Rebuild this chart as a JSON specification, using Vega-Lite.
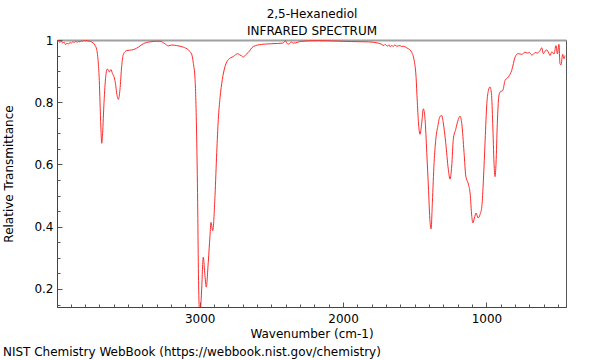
{
  "$schema": "https://vega.github.io/schema/vega-lite/v6.json",
  "autosize": {"type": "none"},
  "padding": {"left": 57, "top": 40, "right": 34, "bottom": 53},
  "width": 509,
  "height": 267,
  "background": "white",
  "title": {"text": "NIST Chemistry WebBook (https://webbook.nist.gov/chemistry)", "orient": "bottom", "anchor": "start", "frame": "bounds", "fontSize": 12, "fontWeight": "normal", "font": "DejaVu Sans", "color": "#000000", "offset": 8, "dx": 0},
  "data": {"values": [
    {"w":3993,"t":0.995},{"w":3985,"t":0.998},{"w":3975,"t":0.992},{"w":3965,"t":0.997},{"w":3955,"t":0.99},{"w":3945,"t":0.993},{"w":3935,"t":0.985},{"w":3925,"t":0.99},{"w":3915,"t":0.987},{"w":3905,"t":0.992},{"w":3895,"t":0.99},{"w":3885,"t":0.994},{"w":3875,"t":0.992},{"w":3865,"t":0.996},{"w":3855,"t":0.993},{"w":3845,"t":0.995},{"w":3835,"t":0.994},{"w":3825,"t":0.997},{"w":3815,"t":0.996},{"w":3805,"t":0.999},{"w":3795,"t":0.997},{"w":3785,"t":0.998},{"w":3777,"t":0.997},{"w":3760,"t":0.995},{"w":3742,"t":0.99},{"w":3730,"t":0.983},{"w":3718,"t":0.969},{"w":3707,"t":0.926},{"w":3700,"t":0.87},{"w":3695,"t":0.8},{"w":3689,"t":0.72},{"w":3683,"t":0.668},{"w":3677,"t":0.7},{"w":3667,"t":0.8},{"w":3655,"t":0.883},{"w":3644,"t":0.907},{"w":3636,"t":0.902},{"w":3630,"t":0.897},{"w":3624,"t":0.902},{"w":3618,"t":0.905},{"w":3609,"t":0.893},{"w":3595,"t":0.878},{"w":3587,"t":0.86},{"w":3579,"t":0.83},{"w":3567,"t":0.809},{"w":3556,"t":0.84},{"w":3544,"t":0.915},{"w":3533,"t":0.953},{"w":3521,"t":0.962},{"w":3509,"t":0.966},{"w":3474,"t":0.968},{"w":3451,"t":0.971},{"w":3428,"t":0.977},{"w":3393,"t":0.988},{"w":3346,"t":0.994},{"w":3300,"t":0.996},{"w":3277,"t":0.996},{"w":3242,"t":0.988},{"w":3219,"t":0.981},{"w":3195,"t":0.984},{"w":3160,"t":0.982},{"w":3114,"t":0.977},{"w":3079,"t":0.968},{"w":3055,"t":0.953},{"w":3044,"t":0.925},{"w":3032,"t":0.873},{"w":3021,"t":0.691},{"w":3014,"t":0.478},{"w":3009,"t":0.266},{"w":3004,"t":0.15},{"w":2998,"t":0.12},{"w":2993,"t":0.14},{"w":2986,"t":0.2},{"w":2975,"t":0.302},{"w":2963,"t":0.243},{"w":2954,"t":0.206},{"w":2940,"t":0.286},{"w":2928,"t":0.371},{"w":2921,"t":0.414},{"w":2909,"t":0.387},{"w":2893,"t":0.5},{"w":2881,"t":0.638},{"w":2870,"t":0.745},{"w":2858,"t":0.814},{"w":2842,"t":0.873},{"w":2823,"t":0.915},{"w":2800,"t":0.937},{"w":2765,"t":0.947},{"w":2735,"t":0.956},{"w":2720,"t":0.952},{"w":2707,"t":0.949},{"w":2696,"t":0.945},{"w":2680,"t":0.952},{"w":2661,"t":0.96},{"w":2626,"t":0.979},{"w":2567,"t":0.986},{"w":2497,"t":0.988},{"w":2420,"t":0.99},{"w":2400,"t":0.998},{"w":2393,"t":0.99},{"w":2380,"t":0.987},{"w":2360,"t":0.993},{"w":2347,"t":0.99},{"w":2288,"t":0.996},{"w":2172,"t":0.998},{"w":2079,"t":0.997},{"w":1939,"t":0.995},{"w":1824,"t":0.994},{"w":1754,"t":0.99},{"w":1730,"t":0.986},{"w":1715,"t":0.982},{"w":1707,"t":0.986},{"w":1690,"t":0.98},{"w":1680,"t":0.985},{"w":1670,"t":0.978},{"w":1660,"t":0.983},{"w":1650,"t":0.979},{"w":1640,"t":0.984},{"w":1625,"t":0.98},{"w":1603,"t":0.982},{"w":1591,"t":0.979},{"w":1580,"t":0.98},{"w":1556,"t":0.975},{"w":1545,"t":0.972},{"w":1521,"t":0.96},{"w":1505,"t":0.937},{"w":1491,"t":0.883},{"w":1482,"t":0.8},{"w":1472,"t":0.723},{"w":1463,"t":0.697},{"w":1451,"t":0.734},{"w":1440,"t":0.779},{"w":1428,"t":0.745},{"w":1416,"t":0.638},{"w":1405,"t":0.531},{"w":1393,"t":0.414},{"w":1386,"t":0.393},{"w":1377,"t":0.478},{"w":1365,"t":0.606},{"w":1353,"t":0.681},{"w":1339,"t":0.723},{"w":1323,"t":0.755},{"w":1311,"t":0.757},{"w":1301,"t":0.734},{"w":1284,"t":0.67},{"w":1266,"t":0.585},{"w":1254,"t":0.553},{"w":1242,"t":0.595},{"w":1231,"t":0.681},{"w":1214,"t":0.713},{"w":1196,"t":0.745},{"w":1184,"t":0.755},{"w":1172,"t":0.732},{"w":1156,"t":0.638},{"w":1144,"t":0.563},{"w":1126,"t":0.537},{"w":1114,"t":0.508},{"w":1102,"t":0.433},{"w":1095,"t":0.412},{"w":1084,"t":0.428},{"w":1072,"t":0.444},{"w":1058,"t":0.428},{"w":1044,"t":0.44},{"w":1032,"t":0.465},{"w":1021,"t":0.55},{"w":1009,"t":0.678},{"w":997,"t":0.796},{"w":986,"t":0.838},{"w":975,"t":0.849},{"w":965,"t":0.828},{"w":956,"t":0.732},{"w":947,"t":0.604},{"w":940,"t":0.561},{"w":933,"t":0.604},{"w":924,"t":0.732},{"w":914,"t":0.817},{"w":905,"t":0.833},{"w":886,"t":0.838},{"w":870,"t":0.87},{"w":847,"t":0.881},{"w":824,"t":0.902},{"w":800,"t":0.945},{"w":789,"t":0.954},{"w":777,"t":0.956},{"w":754,"t":0.954},{"w":731,"t":0.961},{"w":715,"t":0.958},{"w":700,"t":0.96},{"w":685,"t":0.952},{"w":673,"t":0.954},{"w":660,"t":0.96},{"w":647,"t":0.958},{"w":626,"t":0.966},{"w":614,"t":0.975},{"w":603,"t":0.956},{"w":590,"t":0.965},{"w":579,"t":0.968},{"w":565,"t":0.958},{"w":556,"t":0.95},{"w":544,"t":0.962},{"w":528,"t":0.955},{"w":515,"t":0.982},{"w":505,"t":0.955},{"w":494,"t":0.986},{"w":487,"t":0.924},{"w":480,"t":0.92},{"w":468,"t":0.954},{"w":459,"t":0.94},{"w":452,"t":0.95}
  ]},
  "layer": [
    {
      "mark": {"type": "line", "color": "#ff2a2a", "strokeWidth": 1, "clip": true, "interpolate": "monotone"},
      "encoding": {
        "x": {"field": "w", "type": "quantitative",
          "scale": {"domain": [445, 3995], "reverse": true, "nice": false, "zero": false},
          "axis": {"orient": "bottom", "title": "Wavenumber (cm-1)",
            "values": [1000, 2000, 3000], "format": "d",
            "tickSize": -5, "labelPadding": 11, "titlePadding": 4, "grid": false}},
        "y": {"field": "t", "type": "quantitative",
          "scale": {"domain": [0.142, 1.0], "nice": false, "zero": false},
          "axis": {"orient": "left", "title": "Relative Transmittance",
            "values": [0.2, 0.4, 0.6, 0.8, 1.0], "format": "~g",
            "tickSize": -5, "labelPadding": 9, "titlePadding": 18, "grid": false}}
      }
    },
    {
      "mark": {"type": "line", "opacity": 0},
      "encoding": {
        "x": {"field": "w", "type": "quantitative",
          "axis": {"orient": "top", "title": ["2,5-Hexanediol", "INFRARED SPECTRUM"], "ticks": false, "labels": false,
            "domainColor": "#a0a0a0", "domainWidth": 2, "titlePadding": 3, "titleLineHeight": 17, "grid": false}},
        "y": {"field": "t", "type": "quantitative",
          "axis": {"orient": "left", "title": null, "labels": false, "domain": false, "tickSize": -3, "grid": false,
            "values": [0.15, 0.25, 0.3, 0.35, 0.45, 0.5, 0.55, 0.65, 0.7, 0.75, 0.85, 0.9, 0.95]}}
      }
    },
    {
      "mark": {"type": "line", "opacity": 0},
      "encoding": {
        "x": {"field": "w", "type": "quantitative",
          "axis": {"orient": "bottom", "title": null, "labels": false, "domain": false, "tickSize": -3, "grid": false,
            "values": [500,600,700,800,900,1100,1200,1300,1400,1500,1600,1700,1800,1900,2100,2200,2300,2400,2500,2600,2700,2800,2900,3100,3200,3300,3400,3500,3600,3700,3800,3900]}},
        "y": {"field": "t", "type": "quantitative", "axis": null}
      }
    }
  ],
  "resolve": {"axis": {"x": "independent", "y": "independent"}},
  "config": {
    "font": "DejaVu Sans",
    "view": {"stroke": "#555555", "strokeWidth": 1},
    "axis": {"domainColor": "#444444", "tickColor": "#555555", "labelFont": "DejaVu Sans", "labelFontSize": 12, "labelColor": "#000000", "titleFont": "DejaVu Sans", "titleFontSize": 12, "titleFontWeight": "normal", "titleColor": "#000000"}
  }
}
